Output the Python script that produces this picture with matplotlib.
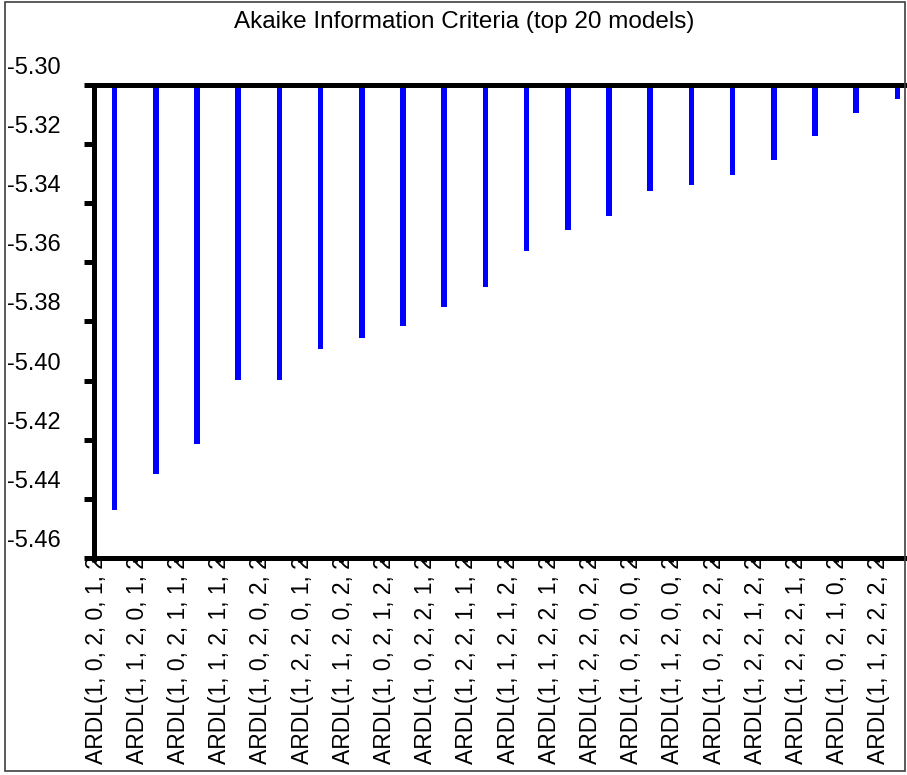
import numpy as np
import matplotlib
matplotlib.use("Agg")
import matplotlib.pyplot as plt
from matplotlib import transforms
from matplotlib.patches import Rectangle

plt.rcParams['font.family'] = ['Liberation Sans', 'DejaVu Sans']

# model labels (as shown, cut off at the axis)
models = [
    "ARDL(1, 0, 2, 0, 1, 2", "ARDL(1, 1, 2, 0, 1, 2", "ARDL(1, 0, 2, 1, 1, 2",
    "ARDL(1, 1, 2, 1, 1, 2", "ARDL(1, 0, 2, 0, 2, 2", "ARDL(1, 2, 2, 0, 1, 2",
    "ARDL(1, 1, 2, 0, 2, 2", "ARDL(1, 0, 2, 1, 2, 2", "ARDL(1, 0, 2, 2, 1, 2",
    "ARDL(1, 2, 2, 1, 1, 2", "ARDL(1, 1, 2, 1, 2, 2", "ARDL(1, 1, 2, 2, 1, 2",
    "ARDL(1, 2, 2, 0, 2, 2", "ARDL(1, 0, 2, 0, 0, 2", "ARDL(1, 1, 2, 0, 0, 2",
    "ARDL(1, 0, 2, 2, 2, 2", "ARDL(1, 2, 2, 1, 2, 2", "ARDL(1, 2, 2, 2, 1, 2",
    "ARDL(1, 0, 2, 1, 0, 2", "ARDL(1, 1, 2, 2, 2, 2",
]
aic = [
    -5.4438, -5.4316, -5.4216, -5.3998, -5.3997, -5.3892, -5.3856, -5.3816,
    -5.3750, -5.3684, -5.3562, -5.3491, -5.3443, -5.3359, -5.3337, -5.3304,
    -5.3255, -5.3173, -5.3096, -5.3047,
]
yticks = [-5.30, -5.32, -5.34, -5.36, -5.38, -5.40, -5.42, -5.44, -5.46]
title = "Akaike Information Criteria (top 20 models)"

W, H = 907, 775
fig = plt.figure(figsize=(W / 100, H / 100), dpi=100)
ax = fig.add_axes([94 / W, 1 - 558 / H, 824 / W, 473 / H])

top = -5.30
x = np.arange(len(models))
vals = np.array(aic)
ax.bar(x, vals - top, bottom=top, width=0.14, color='#0000FF', linewidth=0)

ax.set_xlim(-0.5, len(models) - 0.5)
ax.set_ylim(-5.46, top)

# frame: thick left/top/bottom lines, right side runs off the figure
for s in ['left', 'top', 'bottom']:
    ax.spines[s].set_linewidth(3.6)
ax.spines['right'].set_visible(False)

ax.set_yticks(yticks)
ax.set_yticklabels([])
ax.tick_params(axis='y', direction='out', length=7, width=3.6)
ax.set_xticks([])
ax.set_xticks(x - 0.5, minor=True)
ax.tick_params(axis='x', which='minor', direction='out', length=3, width=3.6)

# y labels sit left-aligned at the figure edge, a little above their ticks
ytrans = transforms.offset_copy(
    transforms.blended_transform_factory(fig.transFigure, ax.transData),
    fig=fig, y=17, units='dots')
for t in yticks:
    ax.text(7 / W, t, f"{t:.2f}", transform=ytrans, ha='left', va='center',
            fontsize=17, clip_on=False)

# rotated category labels, clipped just under the bottom axis line
clip = transforms.Bbox.from_extents(0, 0, W, H - 561)
ltrans = transforms.blended_transform_factory(ax.transData, fig.transFigure)
for i, m in enumerate(models):
    txt = fig.text(0, 0, m, rotation=90, ha='center', va='bottom', fontsize=16.5)
    txt.set_transform(ltrans)
    txt.set_position((i - 0.45, 1 - 764 / H))
    txt.set_clip_box(clip)
    txt.set_clip_on(True)

fig.text(464 / W, 1 - 22 / H, title, ha='center', va='center', fontsize=17.5)

# thin outer border
fig.patches.append(Rectangle((5 / W, 4 / H), 900 / W, 769 / H, transform=fig.transFigure,
                             fill=False, edgecolor='#404040', linewidth=1.2))

fig.savefig("out.png", dpi=100)
